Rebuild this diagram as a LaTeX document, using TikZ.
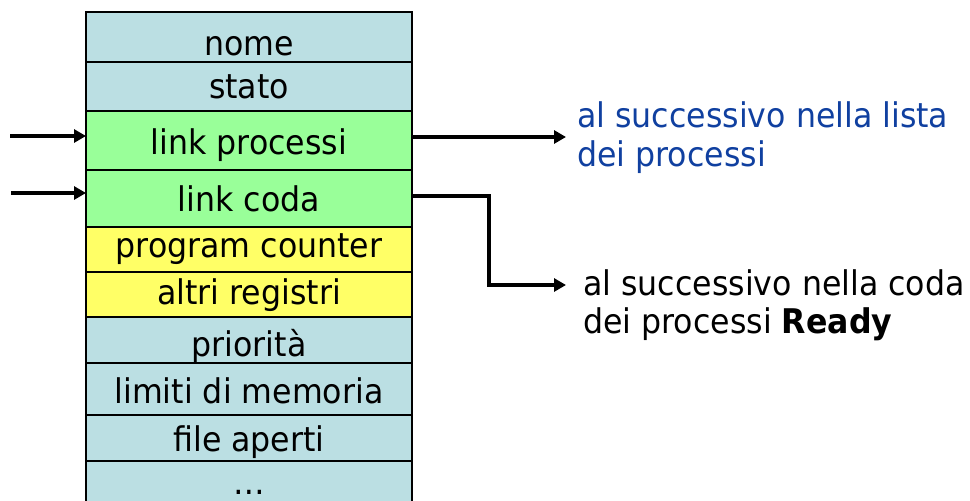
\documentclass[tikz,border=0pt]{standalone}
\usepackage{fontspec}
\setmainfont{DejaVu Sans}[FakeStretch=0.93]
\usetikzlibrary{arrows.meta}
\definecolor{pcbblue}{HTML}{BBDFE3}
\definecolor{pcbgreen}{HTML}{99FF99}
\definecolor{pcbyellow}{HTML}{FFFF66}
\definecolor{linkblue}{HTML}{1040A0}
\begin{document}
\begin{tikzpicture}[x=1pt,y=-1pt,
  field/.style={draw=black, line width=2.8pt, minimum width=326pt, inner sep=0pt, outer sep=0pt},
  lbl/.style={anchor=base, inner sep=0pt, font=\fontsize{34}{40}\selectfont},
  note/.style={lbl, anchor=base west},
  ptr/.style={line width=4.5pt, -{Triangle[length=12pt,width=13pt]}},
  ]
\path[use as bounding box] (0,0) rectangle (970,501);
\clip (0,0) rectangle (970,501);

% process control block fields
\node[field, fill=pcbblue,   minimum height=50pt] (nome)  at (249,37)    {};
\node[field, fill=pcbblue,   minimum height=49pt] (stato) at (249,86.5)  {};
\node[field, fill=pcbgreen,  minimum height=59pt] (lp)    at (249,140.5) {};
\node[field, fill=pcbgreen,  minimum height=57pt] (lc)    at (249,198.5) {};
\node[field, fill=pcbyellow, minimum height=45pt] (pc)    at (249,249.5) {};
\node[field, fill=pcbyellow, minimum height=45pt] (reg)   at (249,294.5) {};
\node[field, fill=pcbblue,   minimum height=46pt] (prio)  at (249,340)   {};
\node[field, fill=pcbblue,   minimum height=52pt] (mem)   at (249,389)   {};
\node[field, fill=pcbblue,   minimum height=46pt] (files) at (249,438)   {};
\node[field, fill=pcbblue,   minimum height=60pt] (more)  at (249,491)   {};

% field labels
\node[lbl] (tnome)  at (249,55)  {nome};
\node[lbl] (tstato) at (249,98)  {stato};
\node[lbl] (tlp)    at (249,154) {link processi};
\node[lbl] (tlc)    at (249,211) {link coda};
\node[lbl] (tpc)    at (249,257) {program counter};
\node[lbl] (treg)   at (249,304) {altri registri};
\node[lbl] (tprio)  at (249,356) {priorità};
\node[lbl] (tmem)   at (249,403) {limiti di memoria};
\node[lbl] (tfiles) at (249,451) {file aperti};
\node[lbl] (tmore)  at (249,494) {…};

% incoming pointers
\coordinate (in1) at (10,136);
\coordinate (in2) at (11,193);
\draw[ptr] (in1) -- (in1 -| lp.west);
\draw[ptr] (in2) -- (in2 -| lc.west);

% outgoing pointers
\coordinate (out1) at (566,137);
\coordinate (bend) at (489,196);
\coordinate (out2) at (566,285);
\draw[ptr] (out1 -| lp.east) -- (out1);
\draw[ptr] (bend -| lc.east) -- (bend) |- (out2);

% pointer descriptions
\node[note, text=linkblue] (lista1) at (577,127) {al successivo nella lista};
\node[note, text=linkblue] (lista2) at (577,166) {dei processi};
\node[note] (coda1) at (583,295) {al successivo nella coda};
\node[note] (coda2) at (583,333) {dei processi \textbf{Ready}};
\end{tikzpicture}
\end{document}
